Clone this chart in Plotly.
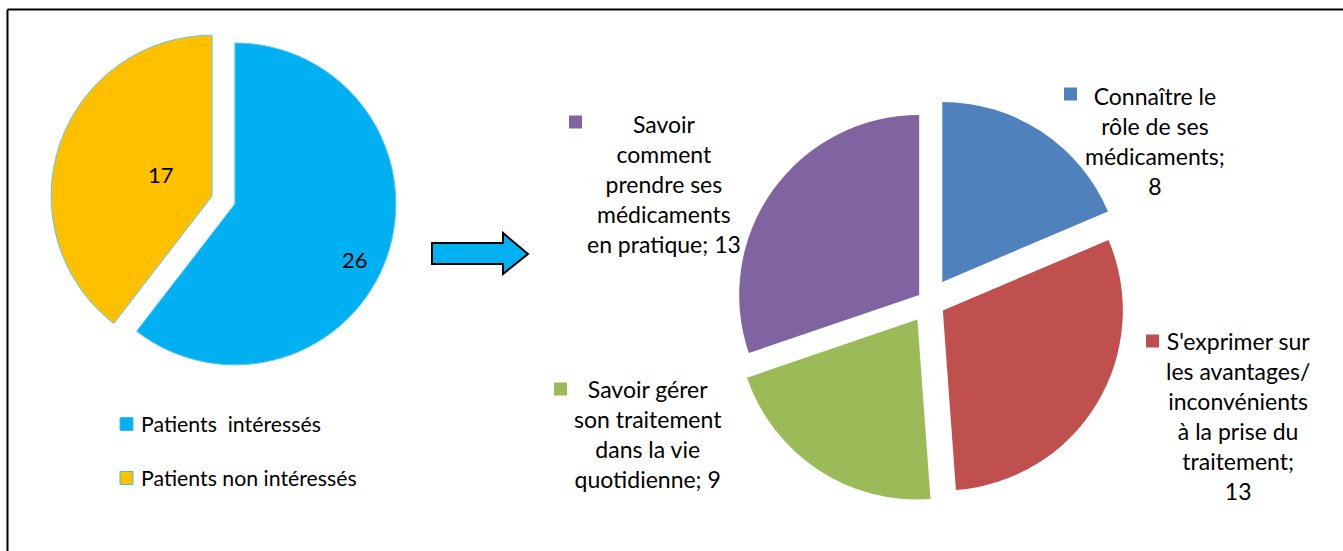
import plotly.graph_objects as go

W, H = 1343, 551

# ---------------- data ----------------
left_labels = ["Patients  intéressés", "Patients non intéressés"]
left_values = [26, 17]
left_colors = ["#00B0F0", "#FFC000"]

right_labels = [
    "Connaître le rôle de ses médicaments",
    "S'exprimer sur les avantages/inconvénients à la prise du traitement",
    "Savoir gérer son traitement dans la vie quotidienne",
    "Savoir comment prendre ses médicaments en pratique",
]
right_values = [8, 13, 9, 13]
right_colors = ["#4F81BD", "#C0504D", "#9BBB59", "#8064A2"]
right_label_templates = [
    "Connaître le<br>rôle de ses<br>médicaments;<br>{v}",
    "S'exprimer sur<br>les avantages/<br>inconvénients<br>à la prise du<br>traitement;<br>{v}",
    "Savoir gérer<br>son traitement<br>dans la vie<br>quotidienne; {v}",
    "Savoir<br>comment<br>prendre ses<br>médicaments<br>en pratique; {v}",
]

# ---------------- layout helpers (pixel -> paper) ----------------
def X(p):
    return p / W


def Y(p):
    return 1 - p / H


FONT = "Lato, 'Open Sans', sans-serif"

fig = go.Figure()

# left pie
fig.add_trace(go.Pie(
    labels=left_labels, values=left_values, sort=False, direction="clockwise", rotation=0,
    marker=dict(colors=left_colors, line=dict(color="#5CC8F2", width=1)),
    pull=[0.075, 0.075], textinfo="none", hoverinfo="label+value",
    domain=dict(x=[X(50.5), X(396.5)], y=[Y(373), Y(27)]),
    showlegend=False,
))

# right pie
r_pulls = [0.134, 0.09, 0.117, 0.067]
half = 180 * (1 + max(r_pulls))
cx, cy = 929, 302
fig.add_trace(go.Pie(
    labels=right_labels, values=right_values, sort=False, direction="clockwise", rotation=0,
    marker=dict(colors=right_colors, line=dict(color="white", width=0)),
    pull=r_pulls, textinfo="none", hoverinfo="label+value",
    domain=dict(x=[X(cx - half), X(cx + half)], y=[Y(cy + half), Y(cy - half)]),
    showlegend=False,
))

annotations = []
shapes = []

# left pie value labels
left_label_pos = [(355, 259), (161, 174)]
for v, (ax, ay) in zip(left_values, left_label_pos):
    annotations.append(dict(x=X(ax), y=Y(ay), xref="paper", yref="paper", text=str(v),
                            showarrow=False, xanchor="center", yanchor="middle",
                            font=dict(family=FONT, size=22, color="black")))

# left legend
legend_rows = [424, 478]
for lab, col, ly in zip(left_labels, left_colors, legend_rows):
    shapes.append(dict(type="rect", xref="paper", yref="paper",
                       x0=X(120), x1=X(133), y0=Y(ly - 6.5), y1=Y(ly + 6.5),
                       fillcolor=col, line=dict(color="#3DBEEE", width=1)))
    annotations.append(dict(x=X(139), y=Y(ly), xref="paper", yref="paper",
                            text=lab.replace("  ", "&nbsp; "), showarrow=False,
                            xanchor="left", yanchor="middle",
                            font=dict(family=FONT, size=21.3, color="black")))

# right pie labels
right_label_pos = [(1155, 141), (1238, 416), (648, 434), (664, 184)]
right_marker_pos = [(1064, 94), (1146, 341), (554, 389), (569, 122)]
for tpl, v, col, (ax, ay), (mx, my) in zip(right_label_templates, right_values, right_colors,
                                           right_label_pos, right_marker_pos):
    annotations.append(dict(x=X(ax), y=Y(ay), xref="paper", yref="paper",
                            text=tpl.format(v=v), showarrow=False,
                            xanchor="center", yanchor="middle", align="center",
                            font=dict(family=FONT, size=23, color="black")))
    shapes.append(dict(type="rect", xref="paper", yref="paper",
                       x0=X(mx), x1=X(mx + 13), y0=Y(my - 6.5), y1=Y(my + 6.5),
                       fillcolor=col, line=dict(width=0)))

# arrow
arrow_pts = [(432, 243), (503, 243), (503, 233), (528, 254), (503, 274), (503, 264), (432, 264)]
path = "M " + " L ".join(f"{X(a):.5f},{Y(b):.5f}" for a, b in arrow_pts) + " Z"
shapes.append(dict(type="path", xref="paper", yref="paper", path=path,
                   fillcolor="#00B0F0", line=dict(color="black", width=2)))

# frame (top and left edges visible)
shapes.append(dict(type="line", xref="paper", yref="paper", x0=X(7.5), x1=X(1350), y0=Y(9.5), y1=Y(9.5),
                   line=dict(color="black", width=2)))
shapes.append(dict(type="line", xref="paper", yref="paper", x0=X(7.5), x1=X(7.5), y0=Y(9.5), y1=Y(560),
                   line=dict(color="black", width=2)))

fig.update_layout(
    width=W, height=H,
    margin=dict(l=0, r=0, t=0, b=0),
    paper_bgcolor="white", plot_bgcolor="white",
    annotations=annotations, shapes=shapes,
    showlegend=False,
)

fig.write_html(
    "out.html",
    config={"displayModeBar": False},
    post_script="document.body.style.margin='0';document.body.style.overflow='hidden';",
)
